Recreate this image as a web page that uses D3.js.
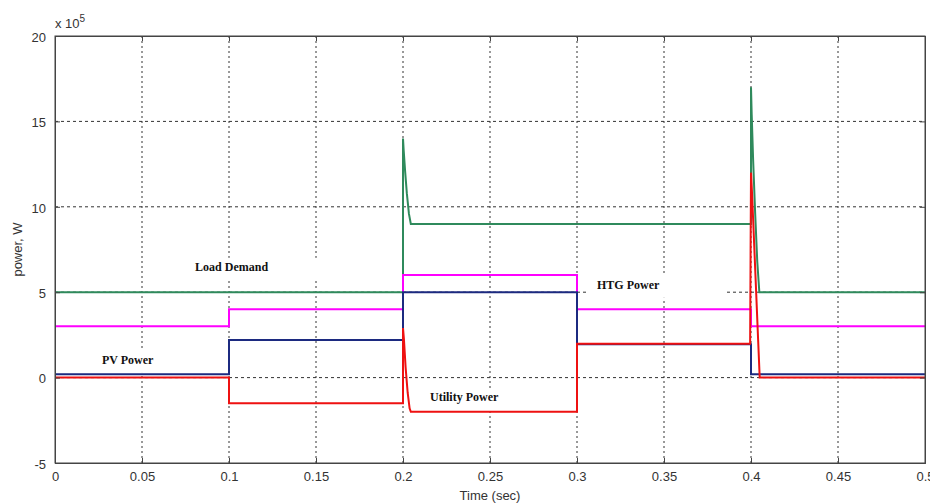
<!DOCTYPE html>
<html>
<head>
<meta charset="utf-8">
<script src="https://cdn.jsdelivr.net/npm/d3@7"></script>
<style>
  body { margin: 0; background: #fff; }
  svg { display: block; }
  .tick-label { font-family: "Liberation Sans", Arial, sans-serif; font-size: 13px; fill: #333; }
  .oznaka { font-family: "Liberation Serif", "Times New Roman", serif; font-size: 12px; font-weight: bold; fill: #111; }
</style>
</head>
<body>
<div id="okvir"></div>
<script>
// podaci (x 10^5 W), vrijeme u sekundama
const loadDemand = [
  [0, 5], [0.2, 5], [0.2, 14], [0.2004, 13.3], [0.2012, 12.1], [0.2022, 10.8],
  [0.2034, 9.6], [0.2045, 9], [0.4, 9], [0.4, 17], [0.4004, 15.4], [0.4012, 12.8],
  [0.4024, 9.6], [0.4036, 6.8], [0.4048, 5], [0.5, 5]
]
const htgPower = [
  [0, 3], [0.1, 3], [0.1, 4], [0.2, 4], [0.2, 6], [0.3, 6], [0.3, 4], [0.4, 4], [0.4, 3], [0.5, 3]
]
const pvPower = [
  [0, 0.2], [0.1, 0.2], [0.1, 2.2], [0.2, 2.2], [0.2, 5], [0.3, 5], [0.3, 1.95], [0.4, 1.95],
  [0.4, 0.2], [0.5, 0.2]
]
const utilityPower = [
  [0, 0], [0.1, 0], [0.1, -1.5], [0.2, -1.5], [0.2, 2.9], [0.2005, 2.3], [0.2015, 0.6],
  [0.2027, -0.9], [0.2038, -1.8], [0.2045, -2], [0.3, -2], [0.3, 1.98],
  [0.3995, 1.98], [0.4, 12], [0.4005, 11], [0.4015, 8.6], [0.4028, 5.4], [0.4041, 2.2],
  [0.405, 0], [0.5, 0]
]

const xTicks = [0, 0.05, 0.1, 0.15, 0.2, 0.25, 0.3, 0.35, 0.4, 0.45, 0.5]
const yTicks = [-5, 0, 5, 10, 15, 20]

const serije = [
  { ime: "Load Demand", podaci: loadDemand, boja: "#2f8a5c" },
  { ime: "HTG Power", podaci: htgPower, boja: "#ff00ff" },
  { ime: "PV Power", podaci: pvPower, boja: "#1c2a80" },
  { ime: "Utility Power", podaci: utilityPower, boja: "#ee1111" }
]

// oznake: tekst, polozaj (t, v) i sirina bijele podloge
const oznake = [
  { tekst: "Load Demand", t: 0.0805, v: 6.25, sirina: 130, dx: -5 },
  { tekst: "HTG Power", t: 0.3115, v: 5.2, sirina: 137, dx: -9 },
  { tekst: "PV Power", t: 0.027, v: 0.8, sirina: 70, dx: -7 },
  { tekst: "Utility Power", t: 0.2155, v: -1.37, sirina: 85, dx: -5 }
]

const dimenzije = {
  sirina: 930,
  visina: 504,
  margine: { top: 36, right: 5, bottom: 41, left: 55 }
}
dimenzije.grSirina = dimenzije.sirina - dimenzije.margine.left - dimenzije.margine.right
dimenzije.grVisina = dimenzije.visina - dimenzije.margine.top - dimenzije.margine.bottom

const okvir = d3.select("#okvir")
  .append("svg")
    .attr("width", dimenzije.sirina)
    .attr("height", dimenzije.visina)

const granice = okvir.append("g")
  .attr("transform", `translate(${dimenzije.margine.left},${dimenzije.margine.top})`)

const xSkala = d3.scaleLinear()
  .domain([0, 0.5])
  .range([0, dimenzije.grSirina])

const ySkala = d3.scaleLinear()
  .domain([-5, 20])
  .range([dimenzije.grVisina, 0])

// mreza
granice.append("g").selectAll("line")
  .data(xTicks.slice(1, -1))
  .join("line")
    .attr("x1", d => xSkala(d)).attr("x2", d => xSkala(d))
    .attr("y1", 0).attr("y2", dimenzije.grVisina)
    .attr("stroke", "#333")
    .attr("stroke-width", 1)
    .attr("stroke-dasharray", "2,3")

granice.append("g").selectAll("line")
  .data(yTicks.slice(1, -1))
  .join("line")
    .attr("x1", 0).attr("x2", dimenzije.grSirina)
    .attr("y1", d => ySkala(d)).attr("y2", d => ySkala(d))
    .attr("stroke", "#333")
    .attr("stroke-width", 1)
    .attr("stroke-dasharray", "3,3")

// bijele podloge oznaka
granice.append("g").selectAll("rect")
  .data(oznake)
  .join("rect")
    .attr("x", d => xSkala(d.t) + d.dx)
    .attr("y", d => ySkala(d.v) - 13)
    .attr("width", d => d.sirina)
    .attr("height", 22)
    .attr("fill", "#fff")

// linije
const linija = d3.line()
  .x(d => xSkala(d[0]))
  .y(d => ySkala(d[1]))

granice.append("g").selectAll("path")
  .data(serije)
  .join("path")
    .attr("d", d => linija(d.podaci))
    .attr("fill", "none")
    .attr("stroke", d => d.boja)
    .attr("stroke-width", 2)
    .attr("stroke-linejoin", "miter")

// tekst oznaka
granice.append("g").selectAll("text")
  .data(oznake)
  .join("text")
    .attr("class", "oznaka")
    .attr("x", d => xSkala(d.t))
    .attr("y", d => ySkala(d.v))
    .text(d => d.tekst)

// osi (MATLAB stil, crtice prema unutra)
const xOsDolje = d3.axisBottom(xSkala).tickValues(xTicks).tickSize(-5).tickPadding(9).tickFormat(d => String(d))
const xOsGore = d3.axisTop(xSkala).tickValues(xTicks).tickSize(-5).tickFormat("")
const yOsLijevo = d3.axisLeft(ySkala).tickValues(yTicks).tickSize(-5).tickPadding(9).tickFormat(d => String(d))
const yOsDesno = d3.axisRight(ySkala).tickValues(yTicks).tickSize(-5).tickFormat("")

const osi = [
  granice.append("g").attr("transform", `translate(0,${dimenzije.grVisina})`).call(xOsDolje),
  granice.append("g").call(xOsGore),
  granice.append("g").call(yOsLijevo),
  granice.append("g").attr("transform", `translate(${dimenzije.grSirina},0)`).call(yOsDesno)
]
osi.forEach(os => {
  os.select(".domain").attr("stroke", "#444")
  os.selectAll(".tick line").attr("stroke", "#444")
  os.selectAll(".tick text").attr("class", "tick-label").attr("fill", null)
})
osi[2].selectAll(".tick text").attr("dx", "0").attr("dy", "0.4em")

// okvir
granice.append("rect")
  .attr("width", dimenzije.grSirina)
  .attr("height", dimenzije.grVisina)
  .attr("fill", "none")
  .attr("stroke", "#444")

// naslovi osi
okvir.append("text")
  .attr("class", "tick-label")
  .attr("x", dimenzije.margine.left + dimenzije.grSirina / 2)
  .attr("y", 500)
  .attr("text-anchor", "middle")
  .text("Time (sec)")

okvir.append("text")
  .attr("class", "tick-label")
  .attr("transform", `translate(22,${dimenzije.margine.top + dimenzije.grVisina / 2}) rotate(-90)`)
  .attr("text-anchor", "middle")
  .text("power, W")

const eksponent = okvir.append("text")
  .attr("class", "tick-label")
  .attr("x", 55)
  .attr("y", 28)
eksponent.append("tspan").text("x 10")
eksponent.append("tspan").attr("dy", -6).style("font-size", "10px").text("5")
</script>
</body>
</html>
